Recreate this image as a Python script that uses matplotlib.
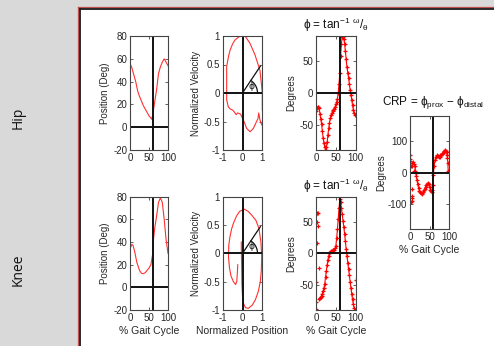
import numpy as np
import matplotlib
matplotlib.use('Agg')
import matplotlib.pyplot as plt
from matplotlib.patches import Rectangle
from matplotlib.lines import Line2D

plt.rcParams['font.family'] = ['Liberation Sans', 'DejaVu Sans']
plt.rcParams['axes.unicode_minus'] = False
plt.rcParams['mathtext.fontset'] = 'dejavusans'

# ---------------- data ----------------
hip_pct = [0, 5, 10, 15, 20, 25, 30, 35, 40, 45, 50, 55, 57, 60, 64, 70, 75, 80, 85, 90, 95, 100]
hip_pos = [56, 52, 46, 40, 32, 27, 23, 19, 16, 13, 10, 8, 7, 11, 20, 33, 47, 53, 57, 60, 57, 54]

knee_pct = [0, 5, 8, 12, 18, 25, 30, 35, 40, 45, 50, 55, 58, 60, 62, 65, 70, 75, 80, 85, 90, 95, 100]
knee_pos = [34, 38, 37, 32, 22, 15, 12.5, 12, 13, 15, 17, 20, 26, 30, 43, 52, 63, 75, 79, 75, 60, 42, 30]

hip_npos = [0.97, 0.88, 0.82, 0.78, 0.71, 0.55, 0.38, 0.21, 0.04, -0.1, -0.25, -0.32, -0.42,
            -0.5, -0.62, -0.72, -0.8, -0.8, -0.8, -0.72, -0.63, -0.5, -0.38, -0.13, 0.13,
            0.38, 0.63, 0.88, 0.97, 1.0, 1.0]
hip_nvel = [-0.56, -0.47, -0.35, -0.45, -0.5, -0.62, -0.68, -0.62, -0.47, -0.37, -0.35, -0.38, -0.33,
            -0.3, -0.28, -0.24, -0.12, 0.2, 0.46, 0.62, 0.75, 0.86, 0.93, 1.0, 1.0,
            0.87, 0.67, 0.40, 0.11, 0.0, -0.3]

knee_npos = [-0.24, -0.26, -0.29, -0.35, -0.46, -0.58, -0.66, -0.71, -0.69, -0.63, -0.55, -0.46,
             -0.3, -0.15, 0.09, 0.29, 0.5, 0.68, 0.83, 0.93, 0.97, 0.95, 0.9, 0.8, 0.65, 0.5,
             0.3, 0.15, 0.05, 0.0, -0.03, -0.04, -0.05, -0.06, -0.06]
knee_nvel = [-0.2, -0.35, -0.5, -0.55, -0.5, -0.4, -0.25, -0.05, 0.15, 0.3, 0.43, 0.53,
             0.66, 0.74, 0.78, 0.74, 0.66, 0.58, 0.44, 0.2, -0.05, -0.3, -0.5, -0.67, -0.82, -0.91,
             -0.97, -0.96, -0.88, -0.75, -0.55, -0.3, -0.1, 0.1, 0.2]

phi_line_end = [0.9, 0.47]
phi_label_pos = [0.47, 0.12]

hip_pa_pct = list(range(0, 101, 2))
hip_pa = [-28, -24, -22, -22, -24, -33, -41, -49, -60, -71, -79, -85, -90, -86, -78, -66, -56,
          -47, -40, -35, -32, -29, -27, -25, -22, -18, -14, -9, 0, 15, 32, 58, 78, 88, 89, 86,
          78, 66, 53, 41, 32, 24, 14, 5, -3, -11, -19, -27, -32, -34, -34]

knee_pa_pct = list(range(8, 100, 2))
knee_pa = [-72, -71, -70, -68, -64, -60, -55, -48, -38, -28, -19, -10, -4, 0, 2, 3, 4, 5, 5, 6,
           8, 12, 24, 38, 55, 72, 86, 82, 72, 62, 52, 42, 31, 19, 7, -4, -15, -25, -35, -45,
           -55, -65, -73, -81, -87, -90]
knee_pa_extra_pct = [1, 3, 5, 2, 5, 2, 7, 1, 0, 1, 100]
knee_pa_extra = [63, 64, 64, 50, 43, 17, -23, -45, -78, -88, -42]

crp_pct = [12, 14, 15, 16, 18, 20, 22, 24, 26, 28, 30, 32, 34, 36, 38, 40, 42, 44, 46, 48, 50,
           52, 54, 56, 57, 58, 60, 62, 64, 66, 68, 70, 72, 74, 76, 78, 80, 82, 84, 86, 88, 90,
           92, 94, 95, 96, 97, 98]
crp = [21, 5, -1, -10, -25, -38, -50, -58, -63, -66, -67, -66, -62, -57, -51, -45, -40, -36,
       -34, -38, -46, -54, -60, -63, -55, -40, -7, 22, 40, 48, 52, 54, 52, 48, 49, 54, 57, 60,
       63, 66, 68, 70, 68, 64, 55, 45, 30, 4]
crp_extra_pct = [0, 0, 1, 3, 4, 6, 8, 10, 9, 4, 4, 5, 6, 3]
crp_extra = [54, 43, 35, 22, 21, 30, 32, 28, 4, -51, -73, -80, -89, -95]

toe_off = 60

# ---------------- figure ----------------
W, H = 494, 346
fig = plt.figure(figsize=(W / 100, H / 100), dpi=100, facecolor='#d9d9d9')


def fx(px):
    return px / W


def fy(py):
    return 1 - py / H


fig.add_artist(Rectangle((fx(79), 0), 1 - fx(79), fy(8.5), transform=fig.transFigure,
                         facecolor='white', edgecolor='none', zorder=0))
fig.add_artist(Line2D([fx(78.2), fx(78.2)], [0, fy(7.2)], transform=fig.transFigure,
                      color='#c0504d', lw=0.9))
fig.add_artist(Line2D([fx(78.2), 1], [fy(7.2), fy(7.2)], transform=fig.transFigure,
                      color='#c0504d', lw=0.9))
fig.add_artist(Line2D([fx(79.8), fx(79.8)], [0, fy(8.8)], transform=fig.transFigure,
                      color='#1a1a1a', lw=1.3))
fig.add_artist(Line2D([fx(79.8), 1], [fy(8.8), fy(8.8)], transform=fig.transFigure,
                      color='#1a1a1a', lw=1.3))

fig.text(fx(18), fy(118), 'Hip', rotation=90, ha='center', va='center', fontsize=10,
         family='Open Sans', color='#111111')
fig.text(fx(18), fy(270), 'Knee', rotation=90, ha='center', va='center', fontsize=10,
         family='Open Sans', color='#111111')

TXT = '#262626'


def add_ax(l, t, r, b):
    ax = fig.add_axes([fx(l), fy(b), (r - l) / W, (b - t) / H])
    ax.tick_params(direction='in', length=2.5, width=0.6, top=True, right=True,
                   labelsize=7, pad=2, colors='#444444', labelcolor=TXT)
    for s in ax.spines.values():
        s.set_linewidth(0.8)
        s.set_color('#444444')
    return ax


RED = '#ff3030'
BLK = '#111111'

ax_hp = add_ax(130, 36, 168, 150)
ax_hpp = add_ax(222.7, 36, 262.3, 150)
ax_hpa = add_ax(316, 36, 355.7, 150)
ax_kp = add_ax(130, 196.7, 168, 310)
ax_kpp = add_ax(222.7, 196.7, 262.3, 310)
ax_kpa = add_ax(316, 196.7, 355.7, 310)
ax_crp = add_ax(410, 115.7, 449, 229.3)

# position plots
for ax, xs, ys in [(ax_hp, hip_pct, hip_pos), (ax_kp, knee_pct, knee_pos)]:
    ax.plot(xs, ys, color=RED, lw=0.8)
    ax.axhline(0, color=BLK, lw=1.4)
    ax.axvline(toe_off, color=BLK, lw=1.4)
    ax.set_xlim(0, 100)
    ax.set_ylim(-20, 80)
    ax.set_xticks([0, 50, 100])
    ax.set_yticks([-20, 0, 20, 40, 60, 80])
    ax.set_ylabel('Position (Deg)', fontsize=7, color=TXT, labelpad=2)

# phase portraits
for ax, xs, ys in [(ax_hpp, hip_npos, hip_nvel), (ax_kpp, knee_npos, knee_nvel)]:
    ax.plot(xs, ys, color=RED, lw=0.8)
    ax.axhline(0, color=BLK, lw=1.4)
    ax.axvline(0, color=BLK, lw=1.4)
    ax.plot([0, phi_line_end[0]], [0, phi_line_end[1]], color=BLK, lw=0.9)
    # angle arc (drawn in pixel space, converted to data units)
    pos = ax.get_position()
    sx = pos.width * W / 2.0
    sy = pos.height * H / 2.0
    ang = np.arctan2(phi_line_end[1] * sy, phi_line_end[0] * sx)
    t = np.linspace(0, ang, 30)
    r = 15.0
    ax.plot(r * np.cos(t) / sx, r * np.sin(t) / sy, color=BLK, lw=0.9)
    ax.text(phi_label_pos[0], phi_label_pos[1], 'ϕ', fontsize=6.5, ha='center', va='center',
            color=BLK, family='DejaVu Sans')
    ax.set_xlim(-1, 1)
    ax.set_ylim(-1, 1)
    ax.set_xticks([-1, 0, 1])
    ax.set_yticks([-1, -0.5, 0, 0.5, 1])
    ax.set_yticklabels(['-1', '-0.5', '0', '0.5', '1'])
    ax.set_ylabel('Normalized Velocity', fontsize=7, color=TXT, labelpad=2)

# phase angles
ax_hpa.plot(hip_pa_pct, hip_pa, color='#ff0000', lw=0.8, marker='+', ms=3.5, mew=0.9)
ax_kpa.plot(knee_pa_pct, knee_pa, color='#ff0000', lw=0.8, marker='+', ms=3.5, mew=0.9)
ax_kpa.plot(knee_pa_extra_pct, knee_pa_extra, color='#ff0000', lw=0, marker='+', ms=3.5, mew=0.9)
title = 'ϕ = tan$^{\\mathregular{-1}}$ $^{\\mathregular{ω}}$/$_{\\mathregular{θ}}$'
for ax in (ax_hpa, ax_kpa):
    ax.axhline(0, color=BLK, lw=1.4)
    ax.axvline(toe_off, color=BLK, lw=1.4)
    ax.set_xlim(0, 100)
    ax.set_ylim(-90, 90)
    ax.set_xticks([0, 50, 100])
    ax.set_yticks([-50, 0, 50])
    ax.set_ylabel('Degrees', fontsize=7, color=TXT, labelpad=2)
    ax.set_title(title, fontsize=8.5, color='#111111', pad=5)

# CRP
ax_crp.plot(crp_pct, crp, color='#ff0000', lw=0.8, marker='+', ms=3.5, mew=0.9)
ax_crp.plot(crp_extra_pct, crp_extra, color='#ff0000', lw=0, marker='+', ms=3.5, mew=0.9)
ax_crp.axhline(0, color=BLK, lw=1.4)
ax_crp.axvline(toe_off, color=BLK, lw=1.4)
ax_crp.set_xlim(0, 100)
ax_crp.set_ylim(-180, 180)
ax_crp.set_xticks([0, 50, 100])
ax_crp.set_yticks([-100, 0, 100])
ax_crp.set_ylabel('Degrees', fontsize=7, color=TXT, labelpad=1)
ax_crp.set_xlabel('% Gait Cycle', fontsize=7.5, color=TXT, labelpad=2)
ax_crp.set_title('CRP = ϕ$_{\\mathregular{prox}}$ − ϕ$_{\\mathregular{distal}}$', fontsize=8.5,
                 color='#111111', pad=8, x=0.6)

ax_kp.set_xlabel('% Gait Cycle', fontsize=7.5, color=TXT, labelpad=2)
ax_kpp.set_xlabel('Normalized Position', fontsize=7.5, color=TXT, labelpad=2)
ax_kpa.set_xlabel('% Gait Cycle', fontsize=7.5, color=TXT, labelpad=2)

fig.savefig('out.png', dpi=100, facecolor=fig.get_facecolor())
